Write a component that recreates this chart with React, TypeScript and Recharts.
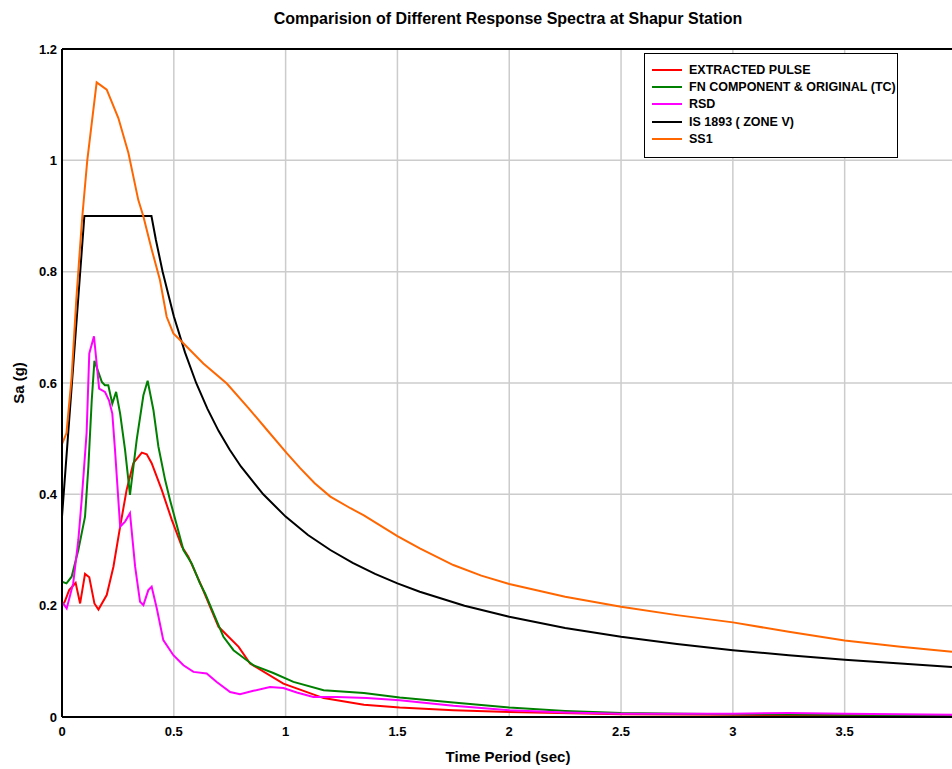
import { LineChart, Line, XAxis, YAxis, CartesianGrid, ReferenceLine } from "recharts";

// time periods (sec) and spectral accelerations (g) for each spectrum
const pulsePeriods = [0, 0.012, 0.032, 0.061, 0.081, 0.103, 0.122, 0.145, 0.163, 0.2, 0.23, 0.26, 0.289, 0.319, 0.357, 0.379, 0.401, 0.446, 0.491, 0.536, 0.565, 0.625, 0.7, 0.79, 0.841, 0.99, 1.17, 1.35, 1.51, 1.75, 2.0, 2.5, 3.0, 3.5, 3.98];
const pulseSa = [0.201, 0.207, 0.228, 0.241, 0.204, 0.257, 0.251, 0.204, 0.193, 0.219, 0.27, 0.342, 0.408, 0.456, 0.475, 0.472, 0.456, 0.408, 0.354, 0.306, 0.288, 0.234, 0.162, 0.126, 0.096, 0.06, 0.034, 0.022, 0.017, 0.012, 0.009, 0.005, 0.004, 0.003, 0.002];

const fnPeriods = [0, 0.02, 0.043, 0.073, 0.103, 0.118, 0.133, 0.145, 0.178, 0.192, 0.207, 0.225, 0.242, 0.26, 0.282, 0.304, 0.334, 0.364, 0.383, 0.409, 0.431, 0.461, 0.483, 0.543, 0.58, 0.617, 0.64, 0.722, 0.767, 0.856, 0.945, 1.035, 1.17, 1.35, 1.51, 1.75, 2.0, 2.25, 2.5, 2.78, 3.0, 3.5, 3.98];
const fnSa = [0.243, 0.24, 0.252, 0.3, 0.36, 0.45, 0.569, 0.64, 0.602, 0.596, 0.596, 0.563, 0.584, 0.545, 0.48, 0.399, 0.498, 0.578, 0.604, 0.551, 0.486, 0.426, 0.39, 0.3, 0.276, 0.24, 0.222, 0.144, 0.12, 0.093, 0.079, 0.063, 0.048, 0.043, 0.035, 0.026, 0.017, 0.011, 0.007, 0.006, 0.005, 0.004, 0.003];

const rsdPeriods = [0, 0.021, 0.05, 0.073, 0.088, 0.11, 0.122, 0.143, 0.166, 0.192, 0.21, 0.225, 0.237, 0.26, 0.282, 0.304, 0.327, 0.349, 0.364, 0.386, 0.401, 0.424, 0.453, 0.498, 0.543, 0.588, 0.647, 0.692, 0.752, 0.796, 0.856, 0.93, 0.99, 1.05, 1.124, 1.23, 1.363, 1.51, 1.75, 2.0, 2.25, 2.5, 3.0, 3.25, 3.5, 3.98];
const rsdSa = [0.207, 0.195, 0.24, 0.318, 0.39, 0.51, 0.653, 0.684, 0.59, 0.584, 0.569, 0.545, 0.48, 0.342, 0.351, 0.366, 0.27, 0.207, 0.201, 0.228, 0.234, 0.195, 0.138, 0.111, 0.093, 0.081, 0.078, 0.063, 0.045, 0.041, 0.047, 0.054, 0.052, 0.044, 0.036, 0.036, 0.034, 0.03, 0.02, 0.012, 0.008, 0.006, 0.006, 0.007, 0.006, 0.004];

const codePeriods = [0, 0.1, 0.4, 0.42, 0.45, 0.5, 0.55, 0.6, 0.65, 0.7, 0.75, 0.8, 0.9, 1.0, 1.1, 1.2, 1.3, 1.4, 1.5, 1.6, 1.8, 2.0, 2.25, 2.5, 2.75, 3.0, 3.25, 3.5, 3.75, 3.98];
const codeSa = [0.36, 0.9, 0.9, 0.857, 0.8, 0.72, 0.655, 0.6, 0.554, 0.514, 0.48, 0.45, 0.4, 0.36, 0.327, 0.3, 0.277, 0.257, 0.24, 0.225, 0.2, 0.18, 0.16, 0.144, 0.131, 0.12, 0.111, 0.103, 0.096, 0.09];

const ss1Periods = [0, 0.02, 0.043, 0.064, 0.08, 0.091, 0.113, 0.155, 0.2, 0.252, 0.297, 0.341, 0.364, 0.401, 0.438, 0.468, 0.498, 0.536, 0.632, 0.737, 0.834, 0.916, 1.005, 1.065, 1.13, 1.2, 1.29, 1.35, 1.5, 1.6, 1.75, 1.875, 2.0, 2.25, 2.5, 2.75, 3.0, 3.25, 3.5, 3.75, 3.98];
const ss1Sa = [0.49, 0.51, 0.61, 0.75, 0.84, 0.9, 1.0, 1.14, 1.127, 1.076, 1.013, 0.929, 0.899, 0.84, 0.785, 0.719, 0.689, 0.674, 0.635, 0.599, 0.555, 0.516, 0.474, 0.447, 0.42, 0.396, 0.375, 0.362, 0.325, 0.303, 0.273, 0.254, 0.239, 0.216, 0.198, 0.183, 0.17, 0.153, 0.1375, 0.126, 0.117];

const xTicks = [0, 0.5, 1, 1.5, 2, 2.5, 3, 3.5];
const yTicks = [0, 0.2, 0.4, 0.6, 0.8, 1, 1.2];

const toPoints = (t: number[], sa: number[]) => t.map((p, i) => ({ t: p, sa: sa[i] }));

const series = [
  { name: "EXTRACTED PULSE", color: "#ff0000", data: toPoints(pulsePeriods, pulseSa) },
  { name: "FN COMPONENT & ORIGINAL (TC)", color: "#008000", data: toPoints(fnPeriods, fnSa) },
  { name: "RSD", color: "#ff00ff", data: toPoints(rsdPeriods, rsdSa) },
  { name: "IS 1893 ( ZONE V)", color: "#000000", data: toPoints(codePeriods, codeSa) },
  { name: "SS1", color: "#ff6600", data: toPoints(ss1Periods, ss1Sa) },
];

const FONT = "'Liberation Sans Narrow', 'Arial Narrow', 'Liberation Sans', Arial, sans-serif";

const tickStyle = { fontFamily: FONT, fontWeight: 700, fontSize: 13, fill: "#000" };

export default function App() {
  return (
    <div style={{ position: "absolute", left: 0, top: 0, width: 952, height: 769, background: "#fff", fontFamily: FONT, overflow: "hidden" }}>
      <div style={{ position: "absolute", left: 0, width: 1016, top: 10, textAlign: "center", fontWeight: 700, fontSize: 16 }}>
        Comparision of Different Response Spectra at Shapur Station
      </div>
      <div style={{ position: "absolute", left: 18, top: 383, transform: "translate(-50%, -50%) rotate(-90deg)", fontWeight: 700, fontSize: 15, whiteSpace: "nowrap" }}>
        Sa (g)
      </div>
      <div style={{ position: "absolute", left: 0, width: 1016, top: 748, textAlign: "center", fontWeight: 700, fontSize: 15 }}>
        Time Period (sec)
      </div>

      <LineChart width={952} height={769} margin={{ top: 49, right: 0, bottom: 0, left: 0 }}>
        <CartesianGrid stroke="#cccccc" strokeWidth={1.5} verticalValues={xTicks} horizontalValues={yTicks} />
        <XAxis
          type="number"
          dataKey="t"
          domain={[0, 3.98]}
          ticks={xTicks}
          allowDataOverflow
          height={52}
          tickLine={false}
          tickMargin={4}
          tick={tickStyle}
          axisLine={{ stroke: "#000", strokeWidth: 2 }}
        />
        <YAxis
          type="number"
          domain={[0, 1.2]}
          ticks={yTicks}
          width={62}
          tickLine={false}
          tickSize={5}
          tickMargin={0}
          tick={tickStyle}
          axisLine={{ stroke: "#000", strokeWidth: 2 }}
        />
        <ReferenceLine y={1.2} stroke="#000" strokeWidth={2} />
        {series.map(s => (
          <Line
            key={s.name}
            data={s.data}
            dataKey="sa"
            name={s.name}
            type="linear"
            stroke={s.color}
            strokeWidth={2}
            dot={false}
            activeDot={false}
            isAnimationActive={false}
          />
        ))}
      </LineChart>

      <div style={{ position: "absolute", left: 644, top: 53, width: 252, height: 103, border: "1px solid #000", background: "#fff", boxSizing: "content-box" }}>
        {series.map((s, i) => (
          <div key={s.name} style={{ position: "absolute", left: 7, top: 7.5 + i * 17.2, height: 17, display: "flex", alignItems: "center" }}>
            <span style={{ display: "inline-block", width: 30, height: 2, background: s.color, marginRight: 7 }} />
            <span style={{ fontWeight: 700, fontSize: 12.5, whiteSpace: "nowrap" }}>{s.name}</span>
          </div>
        ))}
      </div>
    </div>
  );
}
